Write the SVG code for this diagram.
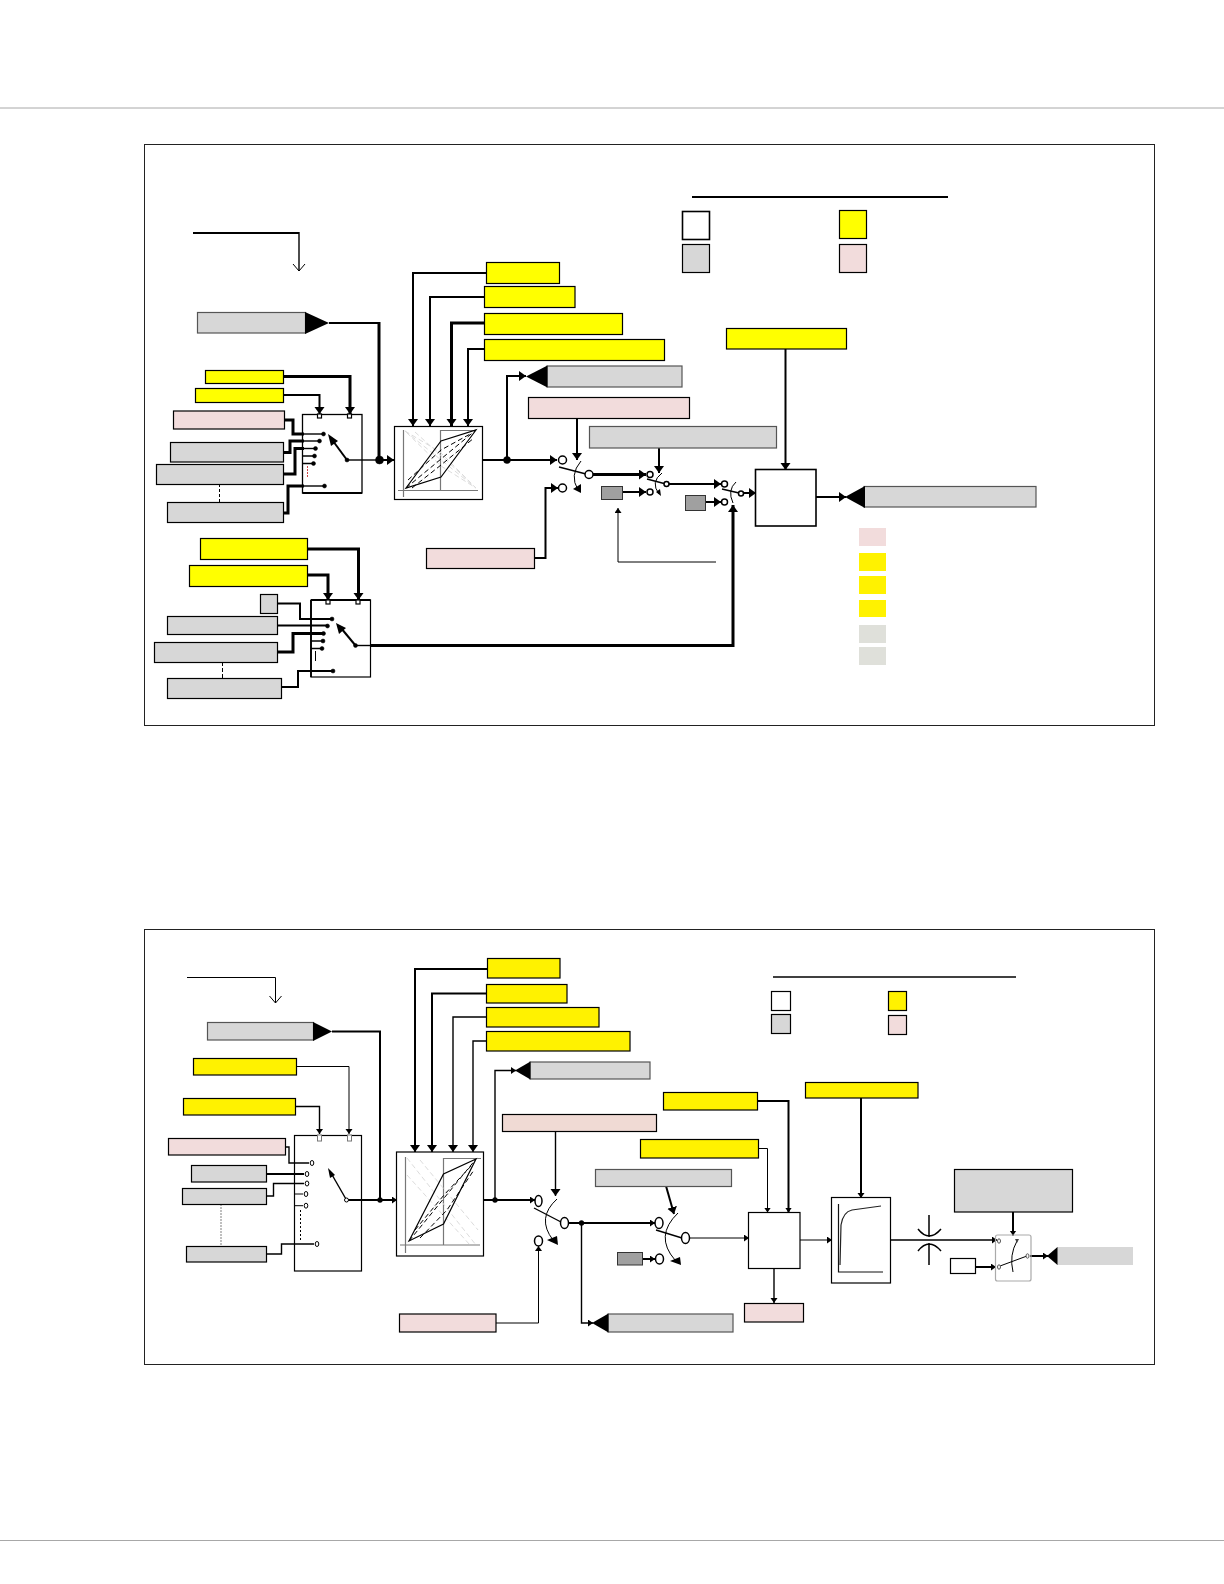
<svg xmlns="http://www.w3.org/2000/svg" width="1224" height="1584" viewBox="0 0 1224 1584">
<style>
rect,polygon,circle,ellipse{stroke-linejoin:miter}
.y{fill:#ffff00;stroke:#000;stroke-width:1.2}
.y2{fill:#fff200;stroke:#000;stroke-width:1.2}
.g{fill:#d7d7d7;stroke:#555;stroke-width:1.2}
.gk{fill:#d7d7d7;stroke:#000;stroke-width:1.2}
.p{fill:#f2dcdc;stroke:#000;stroke-width:1.2}
.p2{fill:#f0dad4;stroke:#000;stroke-width:1.2}
.d{fill:#a0a0a0;stroke:#333;stroke-width:1}
.w{fill:#fff;stroke:#000;stroke-width:1.2}
.wb{fill:#fff;stroke:#000;stroke-width:1.6}
.frame{fill:#fff;stroke:#222;stroke-width:1}
.hr{stroke:#a8a8a8;stroke-width:1;fill:none}
.t{fill:#000}
.l,.l1,.l2,.l3{fill:none;stroke:#000}
.l{stroke-width:1.4}.l1{stroke-width:1}.l2{stroke-width:2}.l3{stroke-width:3}
.a{marker-end:url(#ah)}.as{marker-end:url(#as)}.ao{marker-end:url(#ao)}
.dot{fill:#000;stroke:#000;stroke-width:.5}
.o{fill:#fff;stroke:#000;stroke-width:1.5}
.ax{fill:none;stroke:#777;stroke-width:1.2}
.da{fill:none;stroke:#000;stroke-width:1;stroke-dasharray:5 3}
.fa{fill:none;stroke:#dcdcdc;stroke-width:1;stroke-dasharray:5 3}
.par{fill:none;stroke:#000;stroke-width:1.2}
</style>
<defs>
<marker id="ah" markerUnits="userSpaceOnUse" markerWidth="11" markerHeight="11" refX="7" refY="5" orient="auto"><path d="M0 0L7 5L0 10Z"/></marker>
<marker id="as" markerUnits="userSpaceOnUse" markerWidth="8" markerHeight="8" refX="5" refY="3.500" orient="auto"><path d="M0 0L5 3.500L0 7Z"/></marker>
<marker id="ao" markerUnits="userSpaceOnUse" markerWidth="14" markerHeight="14" refX="8" refY="7" orient="auto"><path d="M1 1L8 7L1 13" fill="none" stroke="#000" stroke-width="1"/></marker>
</defs>
<rect width="1224" height="1584" fill="#fff"/>
<path class="hr" d="M0 108H1224M0 1540.500H1224"/>
<rect id="frame-top" class="frame" x="144.500" y="144.500" width="1010" height="581"/>
<rect id="frame-bottom" class="frame" x="144.500" y="929.500" width="1010" height="435"/>

<g id="connectors">
<path class="l2" d="M193 233H299"/><path class="l ao" d="M299 232V271"/>
<path class="l2" d="M329 323H379"/><path class="l3" d="M379 322V460"/>
<path class="l3 a" d="M283.500 376.500H350V414"/>
<path class="l2 a" d="M283.500 395H319.500V414"/>
<path class="l3" d="M284.500 420H293V434H304"/><path class="l" d="M304 434H323"/>
<path class="l3" d="M283.500 452.500H290V441H304"/><path class="l" d="M304 441H319"/>
<path class="l3" d="M283.500 474H295V448.500H304"/><path class="l" d="M304 448.500H315"/>
<path class="l" d="M303 456H314M303 463.500H313"/>
<path class="l3" d="M283.500 513H288V486H304"/><path class="l" d="M304 486H324"/>
<path class="l1" d="M219.500 484V502" stroke-dasharray="3 2"/>
<path fill="none" stroke="#c44" stroke-width="1" stroke-dasharray="2 1" d="M307.500 466V478"/>
<path class="l" d="M347 460H379"/><path class="l2 a" d="M379 460H394"/>
<path class="l2 a" d="M486 273H413V426"/>
<path class="l2 a" d="M484.500 297H430V426"/>
<path class="l3 a" d="M484.500 323H451.500V426"/>
<path class="l2 a" d="M484.500 349H468V426"/>
<path class="l2 a" d="M482.500 460H557"/>
<path class="l2 a" d="M507 460V376H526"/>
<path class="l2 a" d="M577 418.500V460"/>
<path class="l2 a" d="M659 448V473"/>
<path class="l" d="M559 467L586 474"/>
<path class="l1" d="M581 461Q569 475 578 490"/>
<path class="l3 a" d="M593 474.500H646"/>
<path class="l" d="M647 479L664 483.500"/>
<path class="l1" d="M662 473Q650 482 659 494"/>
<path class="l2 a" d="M669 484H721"/>
<path class="l" d="M722 489L739 493"/>
<path class="l1" d="M736 482Q727 490 733 503"/>
<path class="l2 a" d="M744 493H756"/>
<path class="l2 a" d="M622.500 492H646"/>
<path class="l2 a" d="M705.500 502H721"/>
<path class="l2 a" d="M785.500 349V470"/>
<path class="l2 a" d="M816 497H846"/>
<path class="l1 as" d="M716 562H618V508"/>
<path class="l2 a" d="M534.500 558H545.500V488H558"/>
<path class="l3 a" d="M307.500 549H358.500V600"/>
<path class="l3 a" d="M307.500 575H328V600"/>
<path class="l2" d="M277.500 603.500H300V619H332"/>
<path class="l2" d="M277.500 625.500H327"/>
<path class="l3" d="M277.500 652H293V633.500H323"/>
<path class="l" d="M311 641H323M311 648.500H322"/>
<path class="l1" d="M315.500 651V661"/>
<path class="l2" d="M281.500 687H298V671H333"/>
<path class="l1" d="M222.500 662V678" stroke-dasharray="4 2"/>
<path class="l" d="M355.500 645.500H371"/>
<path class="l3 a" d="M370.500 645.500H733V505"/>

<path class="l1 ao" d="M187 977.500H275.500V1003"/>
<path class="l2" d="M332 1031.500H380V1200"/>
<path class="l1 as" d="M296.500 1066.500H349V1134"/>
<path class="l as" d="M295.500 1106.500H319.500V1134"/>
<path class="l" d="M285.500 1147H289V1163H309"/>
<path class="l2" d="M266.500 1174H304"/>
<path class="l" d="M266.500 1196H273.500V1183.500H304"/>
<path class="l1" d="M294.500 1194H303M294.500 1205.700H303"/>
<path class="l1" d="M300.500 1210V1240" stroke-dasharray="2 2"/>
<path fill="none" stroke="#aaa" stroke-width="1.500" stroke-dasharray="2 1" d="M221 1204V1246"/>
<path class="l" d="M266.500 1254H281.500V1244H314"/>
<path class="l2 as" d="M346.500 1200H397"/>
<path class="l2 a" d="M487.500 969H415V1152"/>
<path class="l2 a" d="M486.500 993.500H432V1152"/>
<path class="l a" d="M486.500 1017H453V1152"/>
<path class="l a" d="M486.500 1041H473V1152"/>
<path class="l2 as" d="M483.500 1200H535"/>
<path class="l as" d="M495 1200V1070.500H516"/>
<path class="l a" d="M555.500 1131.500V1196"/>
<path class="l" d="M534 1208L561 1222"/>
<path class="l1" d="M557 1199Q536 1218 553 1240"/>
<path class="l2 as" d="M568 1223H655"/>
<path class="l" d="M656 1230L682 1238"/>
<path class="l1" d="M678 1213Q654 1236 675 1260"/>
<path class="l2 a" d="M666 1186L674 1214"/>
<path class="l2 as" d="M642.500 1259H655"/>
<path class="l1 as" d="M689.500 1238H749"/>
<path class="l as" d="M581.500 1223V1323H593"/>
<path class="l1 as" d="M496 1323H538.500V1246"/>
<path class="l2 as" d="M757.500 1101H788.500V1212.500"/>
<path class="l1 as" d="M758.500 1148.500H767.500V1212.500"/>
<path class="l as" d="M774 1268.500V1303"/>
<path class="l1 as" d="M800 1240H832"/>
<path class="l2 as" d="M861 1098V1198"/>
<path class="l as" d="M890.500 1240H997"/>
<path class="l2 as" d="M1013 1212V1235.500"/>
<path class="l2 as" d="M975.500 1267H996"/>
<path class="l2 as" d="M1030 1256H1048"/>
</g>

<g id="node-title-top-gray"><rect class="g" x="197.500" y="312.500" width="108" height="20.500"/><polygon class="t" points="305,312 329,323 305,334"/></g>
<g id="node-y1"><rect class="y" x="205.500" y="370.500" width="78" height="13"/></g>
<g id="node-y2"><rect class="y" x="195.500" y="388.500" width="88" height="14"/></g>
<g id="node-p1"><rect class="p" x="173.500" y="411" width="111" height="18"/></g>
<g id="node-g1"><rect class="gk" x="170.500" y="442.500" width="113" height="19.500"/></g>
<g id="node-g2"><rect class="gk" x="156.500" y="464.500" width="127" height="20"/></g>
<g id="node-g3"><rect class="gk" x="167.500" y="502.500" width="116" height="20"/></g>

<g id="node-mux1">
<rect fill="none" stroke="#000" stroke-width="1.300" x="302.500" y="414.500" width="59.500" height="78.500"/>
<path d="M362 493H302.500" stroke="#000" stroke-width="2"/>
<rect class="w" x="317.500" y="414" width="4" height="4"/><rect class="w" x="347.500" y="414" width="4" height="4"/>
<circle class="dot" cx="323.500" cy="434" r="2"/><circle class="dot" cx="319.500" cy="441" r="2"/><circle class="dot" cx="315.500" cy="448.500" r="2"/><circle class="dot" cx="314.500" cy="456" r="2"/><circle class="dot" cx="313.500" cy="463.500" r="2"/><circle class="dot" cx="324.500" cy="486" r="2"/>
<path class="l2" d="M347 460L333 441"/><polygon class="t" points="328,434 338,441 331,446"/><circle class="dot" cx="347" cy="460" r="2"/>
</g>
<circle id="junction-1" class="dot" cx="379.500" cy="460" r="4"/>

<g id="node-curve1">
<rect class="w" x="394.500" y="426.500" width="88" height="73"/>
<path class="ax" d="M403.500 430V497M398 490.500H478M440.500 490.500V430.500H476"/>
<path class="fa" d="M405 431L440 452L476 488L441 466Z"/><path class="fa" d="M405 431L476 488M415 432L470 482"/>
<path class="par" d="M406 488L441 441L476 430L441 477Z"/>
<path class="da" d="M406 488L476 430M408 480L441 450L472 433M412 488L441 465L474 438"/>
</g>
<circle id="junction-2" class="dot" cx="507" cy="460" r="3.500"/>

<g id="node-ya"><rect class="y" x="486.500" y="262.500" width="73" height="21"/></g>
<g id="node-yb"><rect class="y" x="484.500" y="286.500" width="90.500" height="21"/></g>
<g id="node-yc"><rect class="y" x="484.500" y="313.500" width="138" height="21"/></g>
<g id="node-yd"><rect class="y" x="484.500" y="339.500" width="180" height="21"/></g>
<g id="node-out1"><rect class="g" x="547" y="366" width="135" height="21"/><polygon class="t" points="526,376.500 547.500,365.500 547.500,387.500"/></g>
<g id="node-p2"><rect class="p" x="528.500" y="397.500" width="161" height="21"/></g>
<g id="node-g4"><rect class="g" x="589.500" y="426.500" width="187" height="21.500"/></g>

<g id="switch-1"><circle class="o" cx="562.500" cy="460" r="4"/><circle class="o" cx="562.500" cy="488" r="4"/><circle class="o" cx="589" cy="474.500" r="4"/><polygon class="t" points="573,489 581,484 581,493"/></g>
<g id="switch-2"><circle class="o" cx="650" cy="474.500" r="3"/><circle class="o" cx="650" cy="492" r="3"/><circle class="o" cx="666.500" cy="484" r="2.500"/><polygon class="t" points="656,492 660,489 661,496"/></g>
<g id="switch-3"><circle class="o" cx="724.500" cy="484" r="3"/><circle class="o" cx="724.500" cy="502" r="3"/><circle class="o" cx="741" cy="493.500" r="2.500"/></g>
<g id="node-d1"><rect class="d" x="601.500" y="486.500" width="21" height="13"/></g>
<g id="node-d2"><rect class="d" x="685.500" y="495.500" width="20" height="15"/></g>
<g id="node-block1"><rect class="wb" x="755.500" y="469.500" width="60.500" height="56.500"/></g>
<g id="node-y-top"><rect class="y" x="726.500" y="328.500" width="120" height="20.500"/></g>
<g id="node-out2"><rect class="g" x="864" y="486.500" width="172" height="20.500"/><polygon class="t" points="845,497 865,486 865,508"/></g>
<g id="node-p3"><rect class="p" x="426.500" y="548.500" width="108" height="20"/></g>

<g id="node-y3"><rect class="y" x="200.500" y="538.500" width="107" height="21"/></g>
<g id="node-y4"><rect class="y" x="189.500" y="565.500" width="118" height="21"/></g>
<g id="node-g5"><rect class="gk" x="260.500" y="594.500" width="17" height="19"/></g>
<g id="node-g6"><rect class="gk" x="167.500" y="616.500" width="110" height="18"/></g>
<g id="node-g7"><rect class="gk" x="154.500" y="642.500" width="123" height="20"/></g>
<g id="node-g8"><rect class="gk" x="167.500" y="678.500" width="114" height="20"/></g>
<g id="node-mux2">
<rect fill="none" stroke="#000" stroke-width="1.200" x="311" y="600" width="59.500" height="77"/>
<path d="M311 600H370.500M311 600V677" stroke="#000" stroke-width="1.800"/>
<rect class="w" x="326" y="600" width="4" height="4"/><rect class="w" x="356" y="600" width="4" height="4"/>
<circle class="dot" cx="332" cy="619" r="2"/><circle class="dot" cx="327.500" cy="626" r="2"/><circle class="dot" cx="323.500" cy="633.500" r="2"/><circle class="dot" cx="323" cy="641" r="2"/><circle class="dot" cx="322" cy="648.500" r="2"/><circle class="dot" cx="333" cy="671" r="2"/>
<path class="l2" d="M355.500 645.500L341 628"/><polygon class="t" points="336,623 346,628 339,634"/><circle class="dot" cx="355.500" cy="645.500" r="2"/>
</g>

<g id="legend-top">
<path class="l2" d="M692 197H948"/>
<rect class="wb" x="682.500" y="211.500" width="27" height="28"/>
<rect class="gk" x="682.500" y="244.500" width="27" height="28"/>
<rect class="y" x="839.500" y="210.500" width="27" height="28"/>
<rect class="p" x="839.500" y="244.500" width="27" height="28"/>
</g>
<g id="legend-side">
<rect fill="#f2dcdc" x="859" y="528" width="27" height="18"/>
<rect fill="#fff200" x="859" y="553" width="27" height="18"/>
<rect fill="#fff200" x="859" y="576" width="27" height="18"/>
<rect fill="#fff200" x="859" y="600" width="27" height="17"/>
<rect fill="#dfe0da" x="859" y="625" width="27" height="18"/>
<rect fill="#dfe0da" x="859" y="647" width="27" height="18"/>
</g>

<g id="node-b-title"><rect class="g" x="207.500" y="1022.500" width="106" height="17.500"/><polygon class="t" points="313,1022 332,1031.500 313,1041"/></g>
<g id="node-b-y1"><rect class="y2" x="193.500" y="1058.500" width="103" height="16.500"/></g>
<g id="node-b-y2"><rect class="y2" x="183.500" y="1098.500" width="112" height="16.500"/></g>
<g id="node-b-p1"><rect class="p" x="168.500" y="1138.500" width="117" height="16.500"/></g>
<g id="node-b-g1"><rect class="gk" x="191.500" y="1165.500" width="75" height="16.500"/></g>
<g id="node-b-g2"><rect class="gk" x="182.500" y="1188.500" width="84" height="16"/></g>
<g id="node-b-g3"><rect class="gk" x="186.500" y="1246.500" width="80" height="15.500"/></g>
<g id="node-b-mux">
<rect fill="none" stroke="#000" stroke-width="1.200" x="294.500" y="1135.500" width="67" height="135.500"/>
<rect fill="#fff" stroke="#777" x="317.500" y="1135" width="4" height="6"/><rect fill="#fff" stroke="#777" x="347.500" y="1135" width="4" height="6"/>
<ellipse class="o" style="stroke-width:1" cx="312" cy="1163" rx="1.800" ry="2.500"/><ellipse class="o" style="stroke-width:1" cx="307" cy="1174" rx="1.800" ry="2.500"/><ellipse class="o" style="stroke-width:1" cx="307" cy="1183.500" rx="1.800" ry="2.500"/><ellipse class="o" style="stroke-width:1" cx="306" cy="1194" rx="1.800" ry="2.500"/><ellipse class="o" style="stroke-width:1" cx="306" cy="1205.700" rx="1.800" ry="2.500"/><ellipse class="o" style="stroke-width:1" cx="317" cy="1244" rx="1.800" ry="2.500"/>
<path class="l" d="M346.500 1200L331 1173"/><polygon class="t" points="328,1168 335,1175 330,1178"/><circle class="o" style="stroke-width:1" cx="346.500" cy="1200" r="2"/>
</g>
<circle id="junction-3" class="dot" cx="380" cy="1200" r="2.500"/>

<g id="node-b-curve">
<rect class="w" x="396.500" y="1152" width="87" height="104"/>
<path class="ax" d="M405.500 1157V1253M400 1245H480M443.500 1245V1158.500H481"/>
<path class="fa" d="M407 1158L476 1245M420 1160L478 1230M407 1175L470 1245"/>
<path class="par" d="M409 1241L443.500 1174L476 1159L443.500 1224Z"/>
<path class="da" d="M409 1241L476 1159M415 1230L444 1195L472 1165M420 1238L447 1210L474 1170"/>
</g>
<circle id="junction-4" class="dot" cx="495" cy="1200" r="2.500"/>
<g id="node-b-ya"><rect class="y2" x="487.500" y="958.500" width="72.500" height="19.500"/></g>
<g id="node-b-yb"><rect class="y2" x="486.500" y="984.500" width="80.500" height="18.500"/></g>
<g id="node-b-yc"><rect class="y2" x="486.500" y="1007.500" width="112.500" height="19.500"/></g>
<g id="node-b-yd"><rect class="y2" x="486.500" y="1031.500" width="143.500" height="19.500"/></g>
<g id="node-b-out1"><rect class="g" x="530" y="1062" width="120" height="17"/><polygon class="t" points="515,1070.500 530.500,1061.500 530.500,1079.500"/></g>
<g id="node-b-p2"><rect class="p2" x="502.500" y="1114.500" width="154" height="17"/></g>
<g id="node-b-g4"><rect class="g" x="595.500" y="1169.500" width="136" height="17"/></g>
<g id="switch-b1">
<ellipse class="o" cx="538.500" cy="1201" rx="3.500" ry="5.500"/><ellipse class="o" cx="538.500" cy="1241" rx="4" ry="5"/><ellipse class="o" cx="564.500" cy="1223" rx="4" ry="5.500"/>
<polygon class="t" points="547,1240 557,1236 558,1245"/>
</g>
<circle id="junction-5" class="dot" cx="581.500" cy="1223" r="2.500"/>
<g id="switch-b2">
<ellipse class="o" cx="659" cy="1223" rx="4" ry="5.500"/><ellipse class="o" cx="659.500" cy="1259" rx="4" ry="5"/><ellipse class="o" cx="685.500" cy="1238" rx="4" ry="5.500"/>
<polygon class="t" points="670,1261 680,1257 681,1265"/>
</g>
<g id="node-b-d"><rect class="d" x="617.500" y="1252.500" width="25" height="12.500"/></g>
<g id="node-b-out2"><rect class="g" x="608" y="1314" width="125" height="18"/><polygon class="t" points="592,1323 608.500,1313.500 608.500,1332.500"/></g>
<g id="node-b-block"><rect class="w" x="748.500" y="1212.500" width="51.500" height="56"/></g>
<g id="node-b-y3"><rect class="y2" x="663.500" y="1092.500" width="94" height="17.500"/></g>
<g id="node-b-y4"><rect class="y2" x="640.500" y="1139.500" width="118" height="18.500"/></g>
<g id="node-b-p3"><rect class="p" x="744.500" y="1303.500" width="59" height="18.500"/></g>
<g id="node-b-y5"><rect class="y2" x="805.500" y="1082.500" width="112.500" height="15.500"/></g>
<g id="node-b-sat">
<rect class="w" x="831.500" y="1197.500" width="59" height="85.500"/>
<path fill="none" stroke="#111" stroke-width="1.200" d="M838.500 1204V1272H883"/>
<path fill="none" stroke="#222" stroke-width="1.200" d="M840 1265L841 1225Q843 1212 852 1210L881 1206"/>
</g>
<g id="capacitor"><path fill="none" stroke="#000" stroke-width="1.500" d="M929 1215V1237M918 1229Q929 1243 941 1229M929 1243V1265M918 1251Q929 1237 941 1251"/></g>
<g id="node-b-g5"><rect class="gk" x="954.500" y="1169.500" width="118" height="42.500"/></g>
<g id="node-b-switch3">
<rect fill="none" stroke="#aaa" stroke-width="1.200" rx="2" x="995.500" y="1235" width="35.500" height="46"/>
<path class="l1" d="M1000 1266L1027 1256"/><path class="l1" d="M1017 1241Q1009 1255 1013 1272"/>
<polygon fill="#444" points="1015,1239 1019,1239 1017,1243"/>
<ellipse fill="#fff" stroke="#555" cx="999" cy="1241" rx="1.500" ry="2.200"/><ellipse fill="#fff" stroke="#555" cx="999" cy="1267" rx="1.500" ry="2.200"/><ellipse fill="#fff" stroke="#555" cx="1027.500" cy="1256" rx="1.500" ry="2.200"/>
</g>
<g id="node-b-white"><rect class="w" x="950.500" y="1258.500" width="25" height="15"/></g>
<g id="node-b-out3"><rect fill="#d7d7d7" x="1057" y="1247" width="76" height="18"/><polygon class="t" points="1047,1256 1057.500,1247 1057.500,1265"/></g>
<g id="node-b-p4"><rect class="p" x="399.500" y="1314" width="96.500" height="18"/></g>
<g id="legend-bottom">
<path class="l" d="M773 977H1016"/>
<rect class="w" x="771.500" y="991.500" width="19" height="19"/>
<rect class="gk" x="771.500" y="1014.500" width="19" height="19"/>
<rect class="y2" x="888.500" y="991.500" width="18" height="19"/>
<rect class="p" x="888.500" y="1015.500" width="18" height="19"/>
</g>
</svg>
